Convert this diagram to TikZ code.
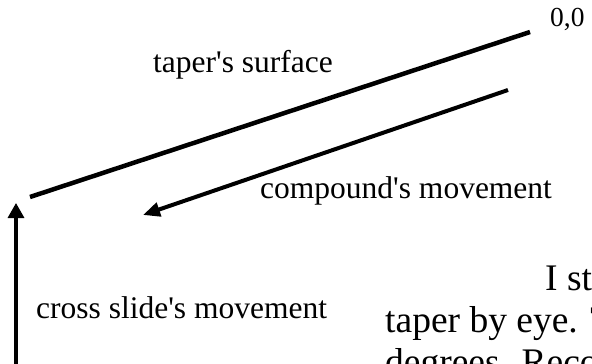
\documentclass[tikz,border=0pt]{standalone}
\usepackage{fontspec}
\setmainfont{Liberation Serif}
\usetikzlibrary{arrows.meta}
\begin{document}
\begin{tikzpicture}[x=1pt,y=-1pt,
  lbl/.style={anchor=base west,inner sep=0pt,font=\fontsize{31.5}{36}\selectfont},
  para/.style={anchor=base west,inner sep=0pt,font=\fontsize{37.5}{42}\selectfont},
  thick line/.style={line width=4.5pt},
  movearrow/.style={line width=4pt,-{Triangle[length=17pt,width=14pt]}},
  slidearrow/.style={line width=3.3pt,-{Triangle[length=15pt,width=16pt]}}]
\useasboundingbox (0,0) rectangle (592,364);
\clip (0,0) rectangle (592,364);
% taper's surface line
\coordinate (ts1) at (30,197);
\coordinate (ts2) at (530,32);
\draw[thick line] (ts1) -- (ts2);
% compound's movement arrow
\coordinate (cm1) at (508,90);
\coordinate (cm2) at (143,215);
\draw[movearrow] (cm1) -- (cm2);
% cross slide's movement arrow
\coordinate (cs1) at (16,370);
\coordinate (cs2) at (16,203);
\draw[slidearrow] (cs1) -- (cs2);
% labels
\node[lbl] (origin) at (550,27) {\fontsize{27.5}{30}\selectfont 0,0};
\node[lbl] (tslabel) at (153,72) {taper\textquotesingle s surface};
\node[lbl] (cmlabel) at (260,198) {compound\textquotesingle s movement};
\node[lbl] (cslabel) at (36,318) {cross slide\textquotesingle s movement};
% paragraph text (cut off at the picture's edges)
\node[para] (p1) at (545,290) {I st};
\node[para] (p2) at (385,332) {taper by eye. T};
\node[para] (p3) at (385,374) {degrees. Reco};
\end{tikzpicture}
\end{document}
